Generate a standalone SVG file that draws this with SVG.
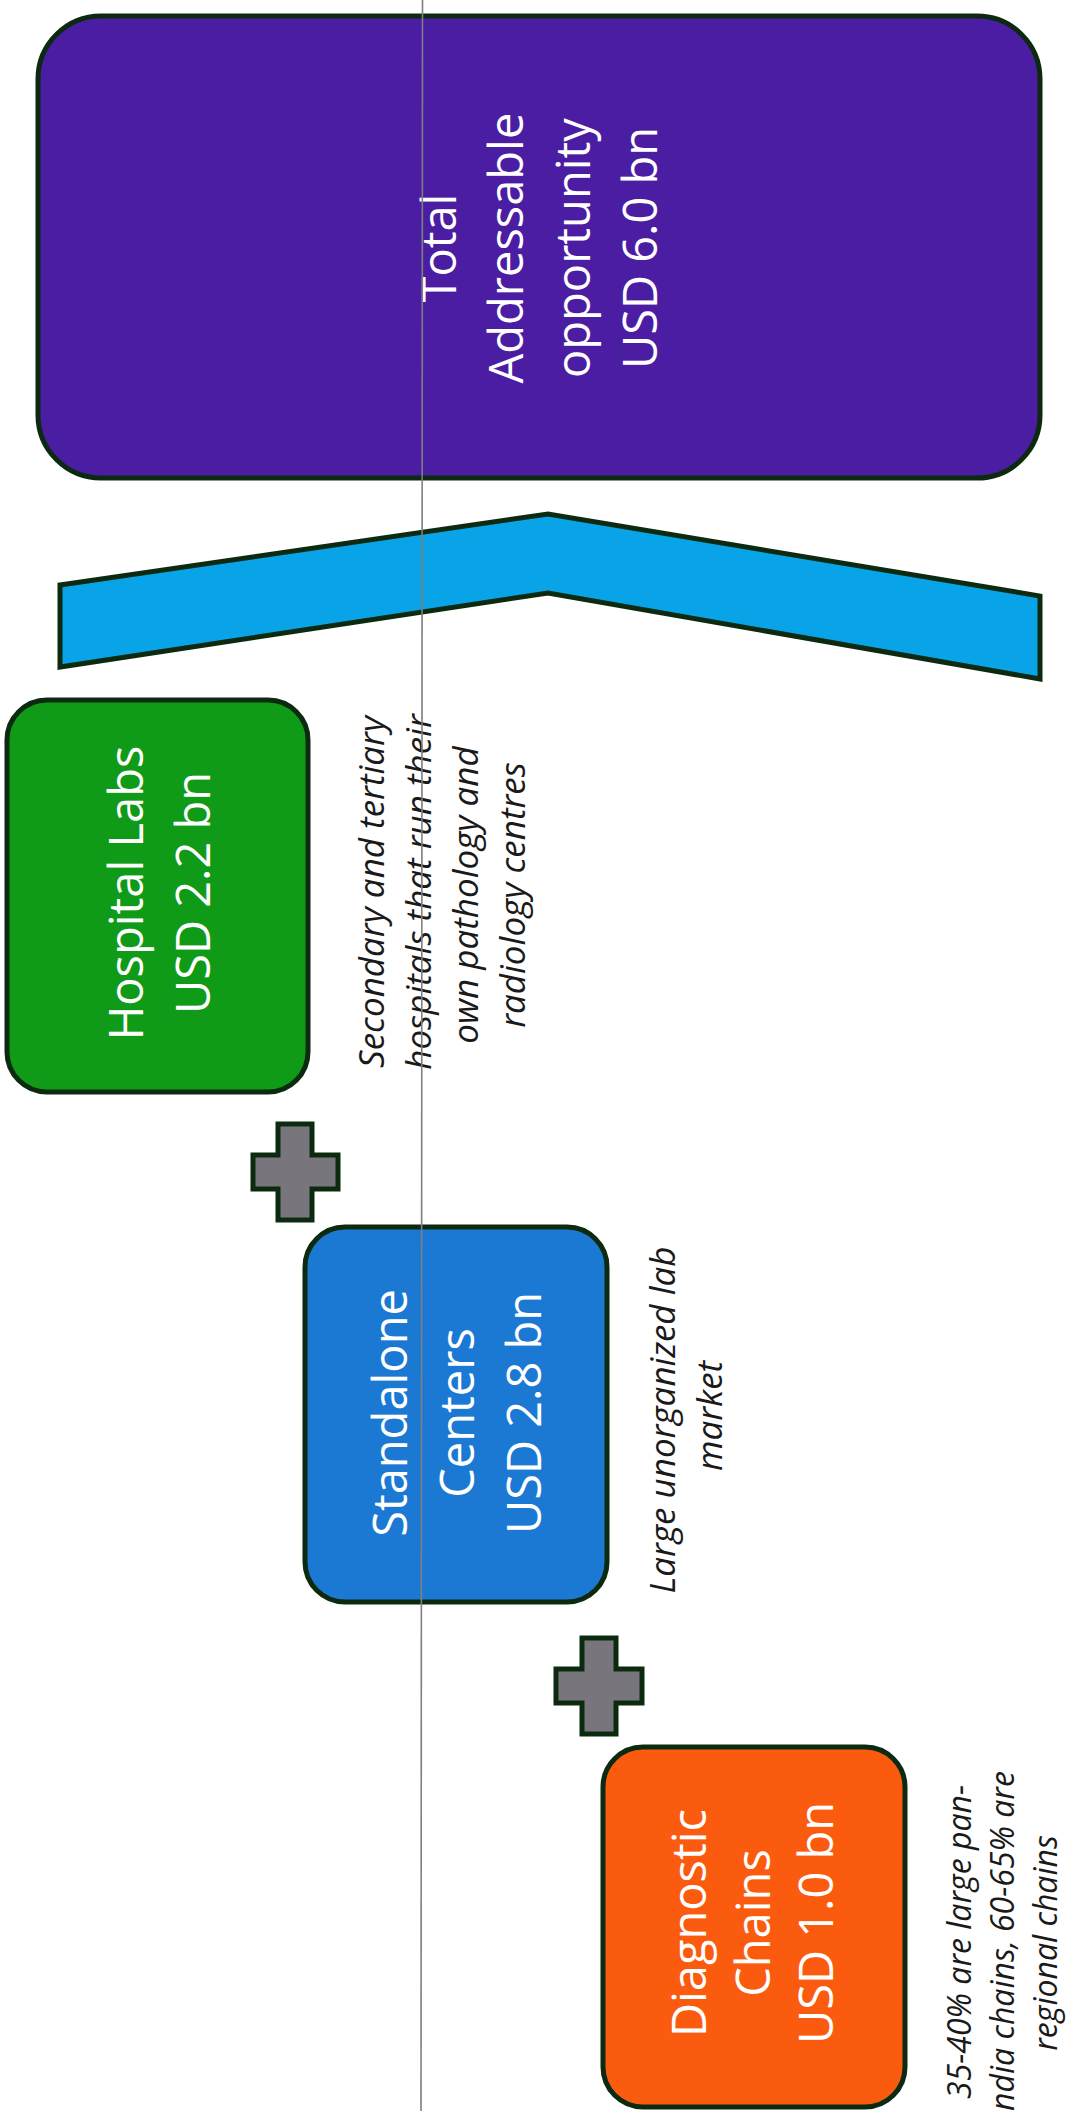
<svg xmlns="http://www.w3.org/2000/svg" width="1071" height="2111" viewBox="0 0 1071 2111">
<style>
.box{stroke:#0c2a0f;stroke-width:5}
.lbl{font-family:"Open Sans","Noto Sans","DejaVu Sans",sans-serif;font-size:47px;fill:#ffffff;text-anchor:middle}
.note{font-family:"Open Sans","Noto Sans","DejaVu Sans",sans-serif;font-style:italic;font-size:35px;fill:#1a1a1a;text-anchor:middle}
.plus{fill:#78767c;stroke:#0c2a0f;stroke-width:5;stroke-linejoin:miter}
</style>
<rect width="1071" height="2111" fill="#ffffff"/>
<g id="node-total">
<rect class="box" x="38" y="16" width="1002" height="462" rx="63" fill="#4b1da3"/>
<text class="lbl" transform="translate(456,248) rotate(-90)">Total</text>
<text class="lbl" transform="translate(523,248) rotate(-90)">Addressable</text>
<text class="lbl" transform="translate(590,248) rotate(-90)">opportunity</text>
<text class="lbl" transform="translate(657,248) rotate(-90)">USD 6.0 bn</text>
</g>
<g id="connectors">
<polygon id="brace" class="box" fill="#09a3e8" stroke-linejoin="miter" points="60,585 548,514 1040,596 1040,679 548,593 60,667"/>
<path id="plus-1" class="plus" d="M278,1124 H312 V1155 H338 V1189 H312 V1220 H278 V1189 H253 V1155 H278 Z"/>
<path id="plus-2" class="plus" d="M582,1638 H616 V1669 H642 V1703 H616 V1734 H582 V1703 H556 V1669 H582 Z"/>
</g>
<g id="node-hospital">
<rect class="box" x="7" y="700" width="301" height="392" rx="40" fill="#0f9a17"/>
<text class="lbl" transform="translate(143,893) rotate(-90)">Hospital Labs</text>
<text class="lbl" transform="translate(210,893) rotate(-90)">USD 2.2 bn</text>
</g>
<g id="note-hospital">
<text class="note" transform="translate(384,892) rotate(-90)">Secondary and tertiary</text>
<text class="note" transform="translate(431,892) rotate(-90)">hospitals that run their</text>
<text class="note" transform="translate(478,895) rotate(-90)">own pathology and</text>
<text class="note" transform="translate(525,895) rotate(-90)">radiology centres</text>
</g>
<g id="node-standalone">
<rect class="box" x="305" y="1227" width="302" height="375" rx="40" fill="#1b79d4"/>
<text class="lbl" transform="translate(407,1413) rotate(-90)">Standalone</text>
<text class="lbl" transform="translate(474,1413) rotate(-90)">Centers</text>
<text class="lbl" transform="translate(541,1413) rotate(-90)">USD 2.8 bn</text>
</g>
<g id="note-standalone">
<text class="note" transform="translate(675,1420) rotate(-90)">Large unorganized lab</text>
<text class="note" transform="translate(722,1416) rotate(-90)">market</text>
</g>
<g id="node-chains">
<rect class="box" x="603" y="1747" width="302" height="360" rx="40" fill="#fb5b0f"/>
<text class="lbl" transform="translate(706,1923) rotate(-90)">Diagnostic</text>
<text class="lbl" transform="translate(770,1923) rotate(-90)">Chains</text>
<text class="lbl" transform="translate(833,1923) rotate(-90)">USD 1.0 bn</text>
</g>
<g id="note-chains">
<text class="note" style="font-size:32px" transform="translate(971,1942) rotate(-90)">35-40% are large pan-</text>
<text class="note" style="font-size:32px;text-anchor:start" transform="translate(1014,2111) rotate(-90)">ndia chains, 60-65% are</text>
<text class="note" style="font-size:32px" transform="translate(1057,1943) rotate(-90)">regional chains</text>
</g>
<line id="divider" x1="422.5" y1="0" x2="421" y2="2111" stroke="#7f7f7f" stroke-width="1.6"/>
</svg>
